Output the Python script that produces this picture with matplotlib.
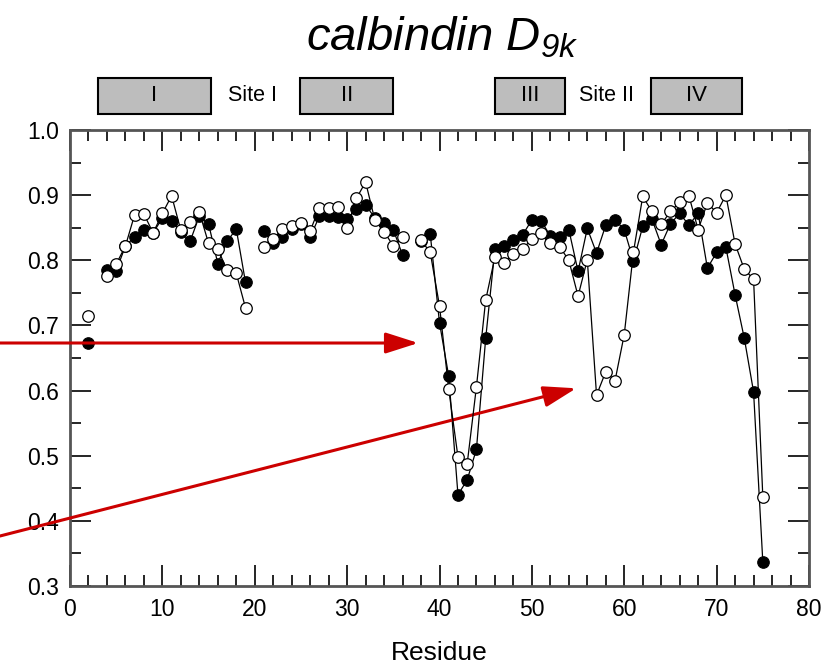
import numpy as np
import matplotlib
matplotlib.use('Agg')
import matplotlib.pyplot as plt
from matplotlib.patches import Rectangle

plt.rcParams['font.family'] = ['Liberation Sans', 'DejaVu Sans']
plt.rcParams['mathtext.default'] = 'regular'

# residue numbers (nan breaks the line where a residue is missing)
residue = [2, 3] + list(range(4, 20)) + [20] + list(range(21, 37)) + [37] + list(range(38, 76))

# filled circles
s2_filled = [0.673, np.nan,
             0.785, 0.784, 0.822, 0.836, 0.846, 0.842, 0.865, 0.861, 0.843, 0.829,
             0.868, 0.856, 0.795, 0.829, 0.848, 0.766,
             np.nan,
             0.845, 0.826, 0.836, 0.848, 0.855, 0.835, 0.868, 0.868, 0.866, 0.864,
             0.878, 0.885, 0.865, 0.857, 0.847, 0.808,
             np.nan,
             0.829, 0.840, 0.704, 0.622, 0.440, 0.463, 0.510, 0.680, 0.817, 0.822,
             0.831, 0.839, 0.862, 0.861, 0.837, 0.836, 0.847, 0.783, 0.849, 0.811,
             0.854, 0.862, 0.847, 0.799, 0.852, 0.863, 0.824, 0.856, 0.872, 0.854,
             0.872, 0.788, 0.812, 0.820, 0.747, 0.680, 0.598, 0.337]

# open circles
s2_open = [0.714, np.nan,
           0.776, 0.794, 0.822, 0.870, 0.871, 0.842, 0.872, 0.899, 0.846, 0.859,
           0.874, 0.826, 0.817, 0.785, 0.780, 0.727,
           np.nan,
           0.821, 0.833, 0.848, 0.853, 0.858, 0.845, 0.881, 0.881, 0.882, 0.849,
           0.895, 0.920, 0.862, 0.844, 0.822, 0.835,
           np.nan,
           0.831, 0.812, 0.730, 0.602, 0.498, 0.488, 0.606, 0.739, 0.805, 0.796,
           0.810, 0.818, 0.832, 0.842, 0.827, 0.821, 0.800, 0.745, 0.801, 0.593,
           0.629, 0.615, 0.686, 0.813, 0.898, 0.875, 0.855, 0.875, 0.889, 0.899,
           0.847, 0.888, 0.873, 0.900, 0.825, 0.786, 0.771, 0.437]

# helices drawn as boxes above the plot
helix_names = ['I', 'II', 'III', 'IV']
helix_start = [3.0, 24.9, 46.0, 62.9]
helix_end = [15.3, 35.0, 53.6, 72.8]
site_names = ['Site I', 'Site II']
site_pos = [19.8, 58.1]

fig = plt.figure(figsize=(8.39, 6.69), dpi=100)
ax = fig.add_axes([70/839, 1 - 586/669, 739/839, 456/669])

ax.plot(residue, s2_filled, '-o', color='black', lw=0.9, ms=8.3,
        mfc='black', mec='black', mew=0.8, zorder=3)
ax.plot(residue, s2_open, '-o', color='black', lw=0.9, ms=8.3,
        mfc='white', mec='black', mew=0.9, zorder=4)

ax.set_xlim(0, 80)
ax.set_ylim(0.3, 1.0)
ax.set_xticks(np.arange(0, 81, 10))
ax.set_xticks(np.arange(0, 81, 2), minor=True)
ax.set_yticks(np.arange(0.3, 1.01, 0.1))
ax.set_yticks(np.arange(0.3, 1.01, 0.05), minor=True)
ax.set_yticklabels(['%.1f' % v for v in np.arange(0.3, 1.01, 0.1)])
ax.tick_params(which='both', direction='in', top=True, right=True,
               labelsize=16.5, width=1.2, color='black')
ax.tick_params(which='major', length=15)
ax.tick_params(which='minor', length=8)
ax.tick_params(axis='y', pad=8)
ax.tick_params(axis='x', pad=9)
for sp in ax.spines.values():
    sp.set_color('#555555')
    sp.set_linewidth(2)
ax.set_xlabel('Residue', fontsize=19, labelpad=14)

# helix boxes
for name, a, b in zip(helix_names, helix_start, helix_end):
    ax.add_patch(Rectangle((a, 1.025), b - a, 0.055, facecolor='#bdbdbd',
                           edgecolor='black', lw=1.5, clip_on=False))
    ax.text((a + b) / 2, 1.0525, name, ha='center', va='center', fontsize=16,
            clip_on=False)
for name, x in zip(site_names, site_pos):
    ax.text(x, 1.0525, name, ha='center', va='center', fontsize=15.5, clip_on=False)

fig.text(442/839, 1 - 50/669, 'calbindin D$_{9k}$', ha='center', va='baseline',
         fontsize=34, style='italic')

# red arrows from the left edge
arrow_props = dict(arrowstyle='-|>,head_length=1.0,head_width=0.32', color='#cc0000',
                   lw=2.2, shrinkA=0, shrinkB=0, mutation_scale=20)
ax.annotate('', xy=(37.7, 0.673), xycoords='data',
            xytext=(0, 669 - 343), textcoords='figure pixels',
            arrowprops=arrow_props, annotation_clip=False)
ax.annotate('', xy=(54.8, 0.6035), xycoords='data',
            xytext=(0, 669 - 536), textcoords='figure pixels',
            arrowprops=arrow_props, annotation_clip=False)

fig.savefig('out.png', dpi=100)
